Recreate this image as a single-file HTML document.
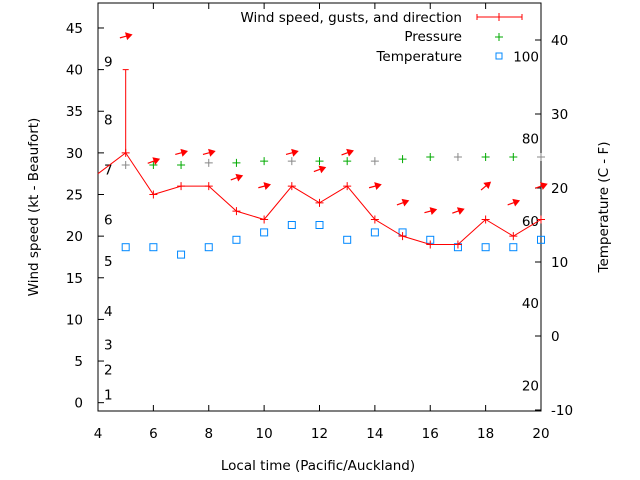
<!DOCTYPE html>
<html><head><meta charset="utf-8">
<style>
body{margin:0;background:#fff;}
svg{display:block;font-family:"DejaVu Sans","Liberation Sans",sans-serif;}
</style></head>
<body>
<svg id="chart" width="640" height="480" viewBox="0 0 640 480">
<rect x="98" y="3" width="443" height="408" fill="none" stroke="#000" stroke-width="1"/>
<g id="axes"></g>
<g id="marks"></g>
<text x="38" y="207" font-size="13.5" text-anchor="middle" transform="rotate(-90 38 207)">Wind speed (kt - Beaufort)</text>
<text x="608" y="207" font-size="13.5" text-anchor="middle" transform="rotate(-90 608 207)">Temperature (C - F)</text>
<text x="318" y="470" font-size="13.5" text-anchor="middle">Local time (Pacific/Auckland)</text>
<g>
<text x="462" y="22" font-size="13.5" text-anchor="end">Wind speed, gusts, and direction</text>
<line x1="477" y1="17" x2="522" y2="17" stroke="red"/>
<line x1="477" y1="14" x2="477" y2="20" stroke="red"/><line x1="522" y1="14" x2="522" y2="20" stroke="red"/><line x1="499" y1="13" x2="499" y2="21" stroke="red"/>
<text x="462" y="41" font-size="13.5" text-anchor="end">Pressure</text>
<path d="M495 37h8M499 33v8" stroke="#0a0"/>
<text x="462" y="61" font-size="13.5" text-anchor="end">Temperature</text>
<rect x="496" y="53" width="6" height="6" fill="none" stroke="#08f"/>
</g>
</svg>
<script>
const hours=[5,6,7,8,9,10,11,12,13,14,15,16,17,18,19,20];
const windKt=[30,25,26,26,23,22,26,24,26,22,20,19,19,22,20,22];
const windStart=27.5;
const gustKt=[40,null,null,null,null,null,null,null,null,null,null,null,null,null,null,null];
const windDirDeg=[15,20,15,15,20,15,15,20,20,15,20,15,20,40,20,20];
const pressureHpa=[1005,1005,1005,1005.7,1005.7,1006.3,1006.3,1006.3,1006.3,1006.3,1007,1007.7,1007.7,1007.7,1007.7,1007.7];
const tempC=[12,12,11,12,13,14,15,15,13,14,14,13,12,12,12,13];
const leftTicks=[0,5,10,15,20,25,30,35,40,45];
const rightTicks=[-10,0,10,20,30,40];
const xTicks=[4,6,8,10,12,14,16,18,20];
const beaufortLabels=["1","2","3","4","5","6","7","8","9"];
const beaufortKt=[1,4,7,11,17,22,28,34,41];
const fahrenheitLabels=[20,40,60,80,100];

const NS="http://www.w3.org/2000/svg";
const X=h=>98+(h-4)*(443/16);
const Y=v=>411-(v+1)*(408/49);
const YC=c=>410-(c+10)*7.4;
const YP=p=>165-(p-1005)*(8/2.7);
const axes=document.getElementById('axes'),marks=document.getElementById('marks');
function mk(tag,attrs,parent,txt){const e=document.createElementNS(NS,tag);for(const k in attrs)e.setAttribute(k,attrs[k]);if(txt!==undefined)e.textContent=txt;parent.appendChild(e);return e;}
leftTicks.forEach(v=>{
 const l=mk('line',{x1:98,x2:104,y1:Y(v),y2:Y(v),stroke:'#000'},axes);
 
 
 const t=mk('text',{x:83,y:Y(v)+5,'font-size':13.5,'text-anchor':'end'},axes,String(v));
 
 
});
rightTicks.forEach(v=>{
 const l=mk('line',{x1:535,x2:541,y1:YC(v),y2:YC(v),stroke:'#000'},axes);
 
 
 const t=mk('text',{x:551,y:YC(v)+5,'font-size':13.5},axes,String(v));
 
 
});
xTicks.forEach(h=>{
 const l=mk('path',{d:`M${X(h)} 411v-6M${X(h)} 3v6`,stroke:'#000'},axes);
 
 
 const t=mk('text',{x:X(h),y:438,'font-size':13.5,'text-anchor':'middle'},axes,String(h));
 
 
});
beaufortLabels.forEach((s,i)=>{
 const t=mk('text',{x:104,y:Y(beaufortKt[i])+5,'font-size':13.5},axes,s);
 
 
});
fahrenheitLabels.forEach(f=>{
 const c=(f-32)*5/9;
 const t=mk('text',{x:539,y:YC(c)+5,'font-size':13.5,'text-anchor':'end'},axes,String(f));
 
 
});
hours.forEach((h,i)=>{
 const r=mk('rect',{x:X(h)-3.5,y:YC(tempC[i])-3.5,width:7,height:7,fill:'none',stroke:'#08f'},marks);
 
 
});
hours.forEach((h,i)=>{
 const p=mk('path',{d:`M${X(h)-4} ${YP(pressureHpa[i])}h8M${X(h)} ${YP(pressureHpa[i])-4}v8`,stroke:(i%3==0?'#888':'#0a0')},marks);
 
 
});
let d=`M98 ${Y(windStart)}`;
hours.forEach((h,i)=>{d+=`L${X(h)} ${Y(windKt[i])}`;});
const wl=mk('path',{d:d,fill:'none',stroke:'red','stroke-width':1},marks);


hours.forEach((h,i)=>{
 const x=X(h),y=Y(windKt[i]);
 const p=mk('path',{d:`M${x-4} ${y}h8M${x} ${y-4}v8`,stroke:'red'},marks);
 
 
 if(gustKt[i]!=null){
  const g=mk('path',{d:`M${x} ${y}V${Y(gustKt[i])}M${x-3} ${Y(gustKt[i])}h6`,stroke:'red'},marks);
  
  
 }
 const top=Math.max(windKt[i],gustKt[i]||0)+4;
 const cy=Y(top),a=windDirDeg[i]*Math.PI/180;
 const dx=Math.cos(a),dy=-Math.sin(a);
 const x0=x-6*dx,y0=cy-6*dy,x1=x+6*dx,y1=cy+6*dy;
 const px=-dy,py=dx;
 const ar=mk('path',{d:`M${x0} ${y0}L${x1} ${y1}M${x1} ${y1}L${x1-5*dx+3*px} ${y1-5*dy+3*py}L${x1-5*dx-3*px} ${y1-5*dy-3*py}Z`,stroke:'red',fill:'red','stroke-width':1.2},marks);
 
 
});
</script>
</body></html>
